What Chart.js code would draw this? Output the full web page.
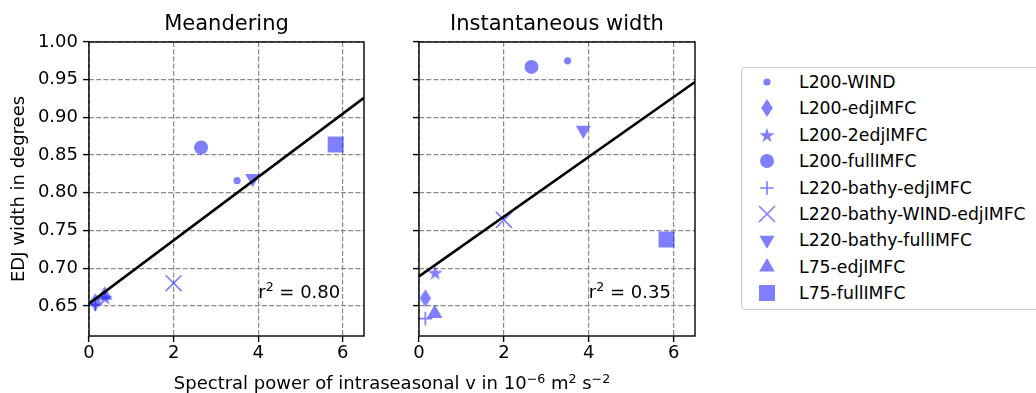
<!DOCTYPE html>
<html>
<head>
<meta charset="utf-8">
<script src="https://cdn.jsdelivr.net/npm/chart.js@4.4.1/dist/chart.umd.min.js"></script>
<style>
  html, body { margin: 0; padding: 0; background: #fff; }
  body { width: 1036px; height: 393px; position: relative; overflow: hidden; font-family: "DejaVu Sans", sans-serif; color: #000; }
  canvas.panel { position: absolute; top: 0; }
  #xlabel { position: absolute; left: 89px; width: 606px; top: 373px; text-align: center; font-size: 18px; line-height: 20px; white-space: nowrap; }
  #xlabel sup { font-size: 0.7em; vertical-align: baseline; position: relative; top: -0.5em; line-height: 0; }
  #legend { position: absolute; left: 741px; top: 67px; width: 320px; height: 243px; border: 1px solid #cccccc; border-radius: 4px; box-sizing: border-box; }
  .leg-row { position: absolute; left: 0; height: 26px; }
  .leg-row canvas { position: absolute; left: 13px; top: 1px; }
  .leg-row span { position: absolute; left: 57px; top: 0; line-height: 26px; font-size: 17.3px; white-space: nowrap; }
</style>
</head>
<body>
<canvas id="meander" class="panel" width="380" height="393" style="left:0"></canvas>
<canvas id="instant" class="panel" width="330" height="393" style="left:380px"></canvas>
<div id="xlabel">Spectral power of intraseasonal v in 10<sup>−6</sup> m<sup>2</sup> s<sup>−2</sup></div>
<div id="legend"></div>
<script>
// ── Données ────────────────────────────────────────────────
const seriesNames = ['L200-WIND', 'L200-edjIMFC', 'L200-2edjIMFC', 'L200-fullIMFC',
  'L220-bathy-edjIMFC', 'L220-bathy-WIND-edjIMFC', 'L220-bathy-fullIMFC', 'L75-edjIMFC', 'L75-fullIMFC'];
const powerX        = [3.5, 0.15, 0.38, 2.65, 0.15, 2.0, 3.87, 0.37, 5.83];
const widthMeander  = [0.816, 0.655, 0.661, 0.860, 0.652, 0.680, 0.819, 0.664, 0.864];
const widthInstant  = [0.975, 0.660, 0.694, 0.967, 0.633, 0.764, 0.883, 0.640, 0.738];
const fitX          = [0, 6.5];
const fitMeander    = [0.653, 0.926];
const fitInstant    = [0.689, 0.947];
const r2Labels      = ['0.80', '0.35'];
const r2Pos         = [4, 0.66];
const xTicks        = [0, 2, 4, 6];
const yTicks        = [0.65, 0.70, 0.75, 0.80, 0.85, 0.90, 0.95, 1.00];
const xRange        = [0, 6.5];
const yRange        = [0.61, 1.00];

const BLUE = 'rgba(0,0,255,0.5)';
const FS = 17.3;   // légende / annotations
const TS = 18;     // graduations

// ── Marqueurs spéciaux (losange fin, étoile) ──────────────
function makeThinDiamond(w, h) {
  const c = document.createElement('canvas');
  c.width = Math.ceil(w) + 2; c.height = Math.ceil(h) + 2;
  const g = c.getContext('2d');
  const cx = c.width / 2, cy = c.height / 2;
  g.fillStyle = BLUE;
  g.beginPath();
  g.moveTo(cx, cy - h / 2); g.lineTo(cx + w / 2, cy); g.lineTo(cx, cy + h / 2); g.lineTo(cx - w / 2, cy);
  g.closePath(); g.fill();
  return c;
}
function makeStar(r) {
  const c = document.createElement('canvas');
  c.width = c.height = Math.ceil(2 * r) + 2;
  const g = c.getContext('2d');
  const cx = c.width / 2, cy = c.height / 2 + r * 0.1;
  g.fillStyle = BLUE;
  g.beginPath();
  for (let i = 0; i < 10; i++) {
    const rr = i % 2 ? r * 0.382 : r;
    const a = -Math.PI / 2 + i * Math.PI / 5;
    const px = cx + rr * Math.cos(a), py = cy + rr * Math.sin(a);
    i ? g.lineTo(px, py) : g.moveTo(px, py);
  }
  g.closePath(); g.fill();
  return c;
}

const markerStyles = [
  { style: 'circle', r: 3.6 },
  { style: makeThinDiamond(11.5, 18), r: 6 },
  { style: makeStar(8), r: 6 },
  { style: 'circle', r: 7 },
  { style: 'cross', r: 6.8, line: true },
  { style: 'crossRot', r: 11.3, line: true },
  { style: 'triangle', r: 8.7, rot: 180 },
  { style: 'triangle', r: 9 },
  { style: 'rect', r: 11.3 },
];

// ── Cadre + annotation r² ────────────────────────────────
const framePlugin = {
  id: 'frame',
  afterDatasetsDraw(chart, args, opts) {
    const { ctx, chartArea: a, scales } = chart;
    ctx.save();
    ctx.strokeStyle = '#000'; ctx.lineWidth = 1.4;
    ctx.strokeRect(a.left, a.top, a.right - a.left, a.bottom - a.top);
    const x = scales.x.getPixelForValue(r2Pos[0]);
    const y = scales.y.getPixelForValue(r2Pos[1]);
    ctx.fillStyle = '#000'; ctx.textAlign = 'left'; ctx.textBaseline = 'alphabetic';
    ctx.font = TS + 'px "DejaVu Sans"';
    ctx.fillText('r', x, y);
    let w = ctx.measureText('r').width;
    ctx.font = (TS * 0.7) + 'px "DejaVu Sans"';
    ctx.fillText('2', x + w, y - 7.5);
    w += ctx.measureText('2').width;
    ctx.font = TS + 'px "DejaVu Sans"';
    ctx.fillText(' = ' + opts.r2, x + w, y);
    ctx.restore();
  }
};

Chart.defaults.font.family = '"DejaVu Sans"';
Chart.defaults.color = '#000';

function makePanel(id, title, yVals, fitY, r2, first) {
  const datasets = [{
    data: fitX.map((x, i) => ({ x, y: fitY[i] })),
    showLine: true, borderColor: '#000', borderWidth: 2.6,
    pointRadius: 0, order: 0,
  }];
  seriesNames.forEach((name, i) => {
    const m = markerStyles[i];
    datasets.push({
      label: name,
      data: [{ x: powerX[i], y: yVals[i] }],
      pointStyle: m.style, pointRadius: m.r, pointRotation: m.rot || 0,
      pointBackgroundColor: BLUE, pointBorderColor: BLUE,
      pointBorderWidth: m.line ? 1.7 : 0,
      order: 1,
    });
  });

  const gridOpts = { color: '#8a8a8a', lineWidth: 1.2, tickLength: 6, tickColor: '#000', tickWidth: 1.4, tickBorderDash: [] };
  const borderOpts = { display: false, dash: [5, 2.2] };

  return new Chart(document.getElementById(id), {
    type: 'scatter',
    data: { datasets },
    plugins: [framePlugin],
    options: {
      responsive: false, animation: false, events: [],
      layout: { padding: { left: 0, right: first ? 16 : 15, top: 0, bottom: 0 } },
      plugins: {
        legend: { display: false },
        tooltip: { enabled: false },
        title: { display: true, text: title, fullSize: false, font: { size: 21, weight: 'normal' }, color: '#000', padding: { top: 12, bottom: 4.8 } },
        frame: { r2 },
      },
      scales: {
        x: {
          type: 'linear', min: xRange[0], max: xRange[1],
          afterBuildTicks: s => { s.ticks = xTicks.map(v => ({ value: v })); },
          afterFit: s => { s.height = 57; },
          ticks: { font: { size: TS }, color: '#000', padding: 1, maxRotation: 0, callback: v => String(v) },
          grid: gridOpts, border: borderOpts,
        },
        y: {
          type: 'linear', min: yRange[0], max: yRange[1],
          afterBuildTicks: s => { s.ticks = yTicks.map(v => ({ value: v })); },
          afterFit: s => { s.width = first ? 89 : 39; },
          ticks: { display: first, font: { size: TS }, color: '#000', padding: 5, callback: v => v.toFixed(2) },
          title: { display: first, text: 'EDJ width in degrees', font: { size: TS }, color: '#000', padding: { top: 9, bottom: 0 } },
          grid: gridOpts, border: borderOpts,
        },
      },
    },
  });
}

makePanel('meander', 'Meandering', widthMeander, fitMeander, r2Labels[0], true);
makePanel('instant', 'Instantaneous width', widthInstant, fitInstant, r2Labels[1], false);

// ── Légende ──────────────────────────────────────────────
const legend = document.getElementById('legend');
seriesNames.forEach((name, i) => {
  const row = document.createElement('div');
  row.className = 'leg-row';
  row.style.top = (1 + i * 26.4) + 'px';
  const cv = document.createElement('canvas');
  cv.width = 24; cv.height = 24;
  const g = cv.getContext('2d');
  const m = markerStyles[i];
  g.fillStyle = BLUE; g.strokeStyle = BLUE; g.lineWidth = m.line ? 1.7 : 0;
  Chart.helpers.drawPoint(g, { pointStyle: m.style, radius: m.r, rotation: m.rot || 0, borderWidth: m.line ? 1.7 : 0 }, 12, 12);
  const sp = document.createElement('span');
  sp.textContent = name;
  row.appendChild(cv); row.appendChild(sp);
  legend.appendChild(row);
});
</script>
</body>
</html>
